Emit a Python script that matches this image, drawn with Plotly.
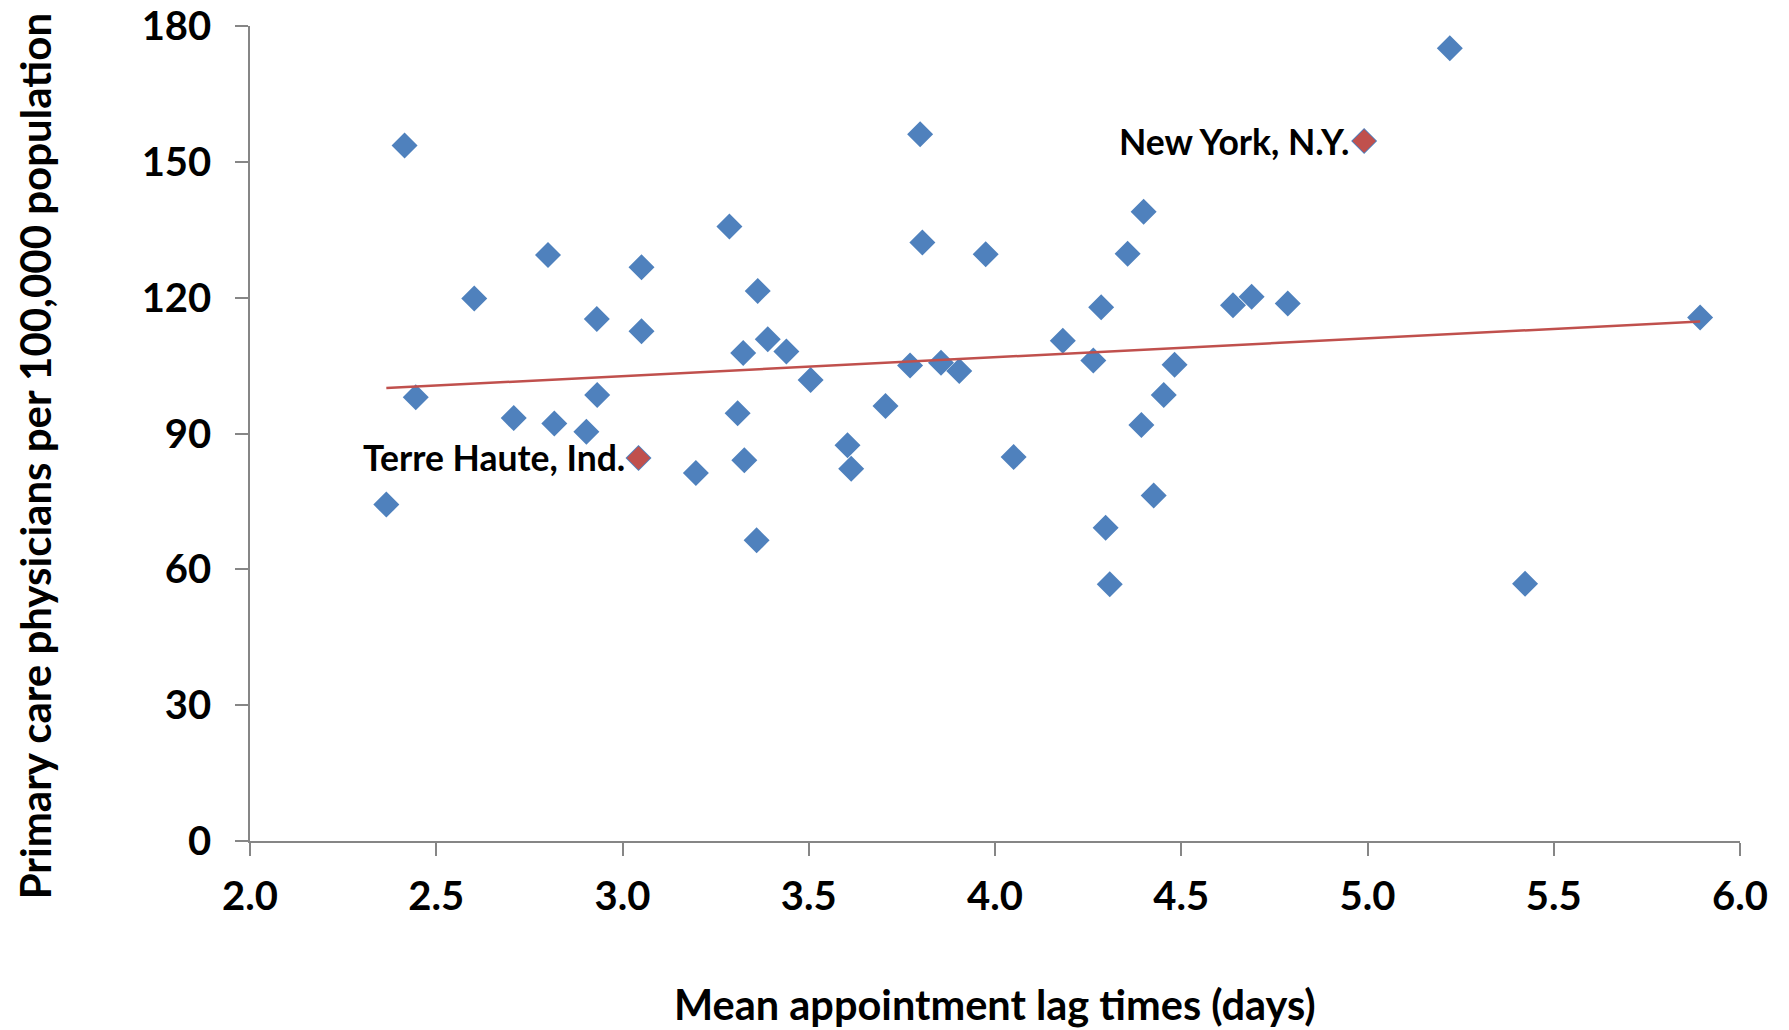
import numpy as np
import plotly.graph_objects as go

# Mean appointment lag times (days) and primary care physicians per 100,000 population
lag_days = [2.366, 2.415, 2.445, 2.602, 2.708, 2.800, 2.817, 2.903, 2.931, 2.932,
            3.043, 3.051, 3.051, 3.197, 3.287, 3.309, 3.324, 3.327, 3.360, 3.363,
            3.390, 3.440, 3.505, 3.604, 3.614, 3.706, 3.772, 3.799, 3.805, 3.855,
            3.904, 3.975, 4.050, 4.182, 4.264, 4.285, 4.297, 4.308, 4.356, 4.393,
            4.399, 4.426, 4.453, 4.482, 4.639, 4.689, 4.786, 4.991, 5.221, 5.423,
            5.893]
physicians = [74.3, 153.6, 98.0, 119.8, 93.4, 129.4, 92.2, 90.4, 115.3, 98.5,
              84.6, 126.7, 112.6, 81.3, 135.7, 94.5, 107.8, 84.1, 66.4, 121.5,
              110.8, 108.1, 101.8, 87.4, 82.2, 96.1, 105.0, 156.1, 132.2, 105.6,
              103.8, 129.6, 84.8, 110.5, 106.1, 117.9, 69.2, 56.7, 129.7, 91.9,
              139.0, 76.3, 98.5, 105.2, 118.3, 120.2, 118.7, 154.6, 175.1, 56.8,
              115.6]

highlight_names = ["Terre Haute, Ind.", "New York, N.Y."]
highlight_x = [3.043, 4.991]
highlight_y = [84.6, 154.6]

# linear trend line
trend_slope = 4.17
trend_intercept = 90.17

x_ticks = [2.0, 2.5, 3.0, 3.5, 4.0, 4.5, 5.0, 5.5, 6.0]
y_ticks = [0, 30, 60, 90, 120, 150, 180]

BLUE = "#4F81BD"
RED = "#C0504D"
AXIS = "#868686"
FONT = "Lato"

tx = np.array([min(lag_days), max(lag_days)])
ty = trend_slope * tx + trend_intercept

fig = go.Figure()
fig.add_trace(go.Scatter(
    x=lag_days, y=physicians, mode="markers",
    marker=dict(symbol="diamond", size=20, color=BLUE, line=dict(width=0)),
    showlegend=False, hoverinfo="x+y"))
fig.add_trace(go.Scatter(
    x=tx, y=ty, mode="lines", line=dict(color=RED, width=2.5),
    showlegend=False, hoverinfo="skip"))
fig.add_trace(go.Scatter(
    x=highlight_x, y=highlight_y, mode="markers",
    marker=dict(symbol="diamond", size=18, color=RED, line=dict(width=0)),
    showlegend=False, text=highlight_names, hoverinfo="text"))

for name, hx, hy in zip(highlight_names, highlight_x, highlight_y):
    fig.add_annotation(x=hx, y=hy, xref="x", yref="y", text=name,
                       showarrow=False, xanchor="right", yanchor="middle",
                       xshift=-12, font=dict(family=FONT, size=35.5, color="#000000", weight="bold"))

fig.add_annotation(text="Primary care physicians per 100,000 population",
                   xref="paper", yref="paper", x=0, y=0.472, xshift=-215,
                   textangle=-90, showarrow=False, xanchor="center", yanchor="middle",
                   font=dict(family=FONT, size=42, color="#000000", weight="bold"))
fig.add_annotation(text="Mean appointment lag times (days)",
                   xref="paper", yref="paper", x=0.5, y=0, yshift=-163,
                   showarrow=False, xanchor="center", yanchor="middle",
                   font=dict(family=FONT, size=41.5, color="#000000", weight="bold"))

fig.update_layout(
    width=1789, height=1030,
    margin=dict(l=250, r=49, t=26, b=189, pad=0),
    paper_bgcolor="white", plot_bgcolor="white",
    font=dict(family=FONT, color="#000000"),
    xaxis=dict(range=[2, 6], tickvals=x_ticks, ticktext=[f"{v:.1f}" for v in x_ticks],
               automargin=False, ticklabeloverflow="allow",
               showgrid=False, zeroline=False, showline=True, linecolor=AXIS, linewidth=1.5,
               ticks="outside", ticklen=13, tickcolor=AXIS, tickwidth=1.5,
               ticklabelstandoff=6,
               tickfont=dict(family=FONT, size=40, color="#000000", weight="bold")),
    yaxis=dict(range=[0, 180], tickvals=y_ticks, automargin=False, ticklabeloverflow="allow",
               showgrid=False, zeroline=False, showline=True, linecolor=AXIS, linewidth=1.5,
               ticks="outside", ticklen=13, tickcolor=AXIS, tickwidth=1.5,
               ticklabelstandoff=16,
               tickfont=dict(family=FONT, size=40, color="#000000", weight="bold")),
)

fig.write_html("out.html", config={"displayModeBar": False},
               post_script="document.body.style.margin='0';document.body.style.overflow='hidden';")
